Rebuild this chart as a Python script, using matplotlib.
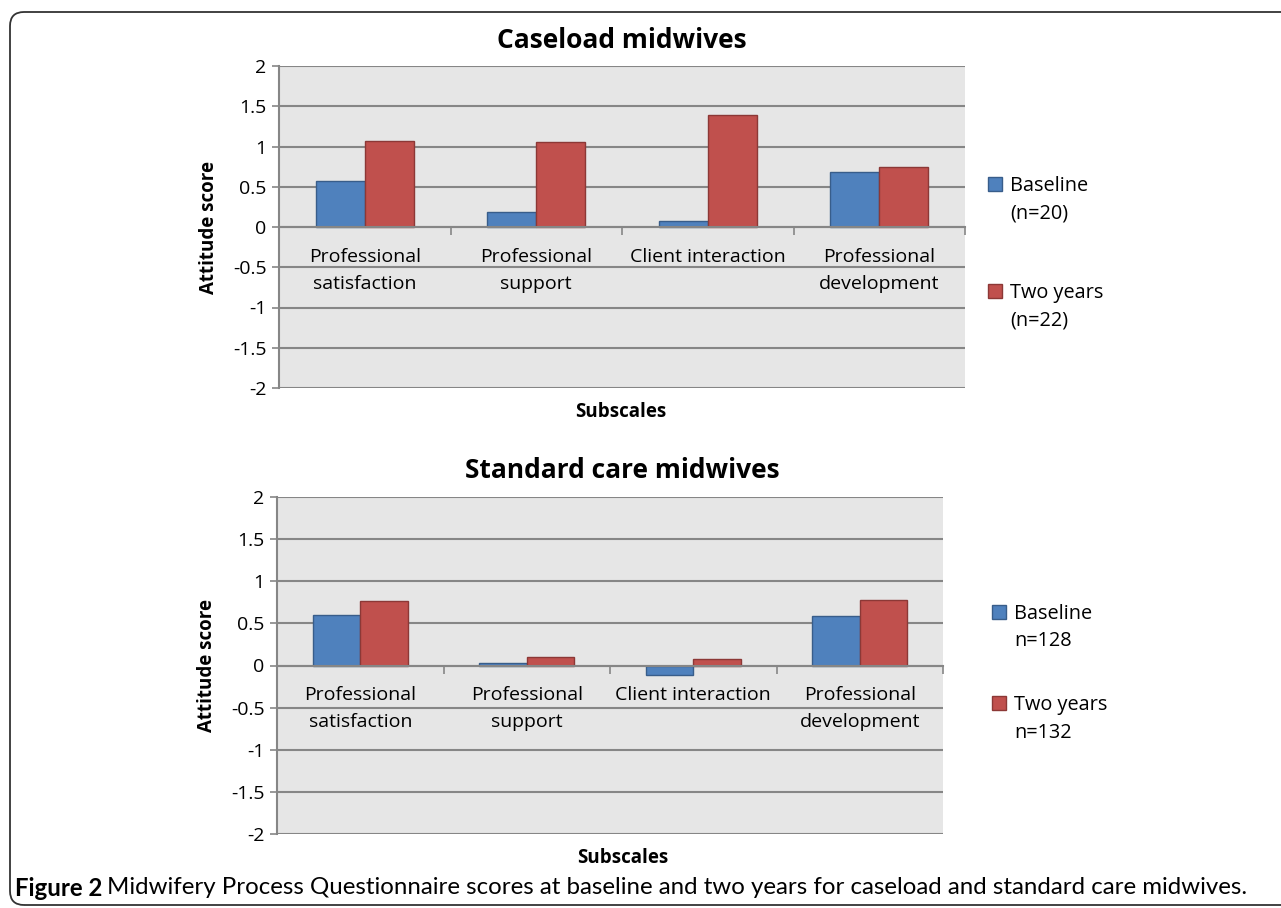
import numpy as np
import matplotlib.pyplot as plt
from matplotlib.patches import FancyBboxPatch, Rectangle
from matplotlib.transforms import IdentityTransform

plt.rcParams['font.family'] = ['Open Sans', 'DejaVu Sans']

# data
subscales = ['Professional\nsatisfaction', 'Professional\nsupport',
             'Client interaction', 'Professional\ndevelopment']
case_base = [0.57, 0.19, 0.08, 0.68]
case_two = [1.07, 1.05, 1.39, 0.74]
std_base = [0.60, 0.03, -0.11, 0.59]
std_two = [0.76, 0.10, 0.08, 0.78]
case_labels = ['Baseline\n(n=20)', 'Two years\n(n=22)']
std_labels = ['Baseline\nn=128', 'Two years\nn=132']
yticks = [-2, -1.5, -1, -0.5, 0, 0.5, 1, 1.5, 2]
ytick_labels = ['-2', '-1.5', '-1', '-0.5', '0', '0.5', '1', '1.5', '2']

blue, blue_edge = '#4F81BD', '#385D8A'
red, red_edge = '#C0504D', '#8C3836'
grid_col = '#868686'

W, H = 1281, 908
fig = plt.figure(figsize=(W / 100, H / 100), dpi=100)

# rounded frame around the figure
frame = FancyBboxPatch((10, 3), 1300, 893, boxstyle='round,pad=0,rounding_size=14',
                       transform=IdentityTransform(), fill=False,
                       edgecolor='#333333', linewidth=1.3)
fig.add_artist(frame)


def panel(rect, base, two, title, labels, leg_x, leg_y, title_xy, xl_xy, yl_xy):
    ax = fig.add_axes(rect)
    x = np.arange(len(subscales))
    w = 0.286
    ax.bar(x - w / 2, base, w, color=blue, edgecolor=blue_edge, linewidth=1, zorder=3)
    ax.bar(x + w / 2, two, w, color=red, edgecolor=red_edge, linewidth=1, zorder=3)
    ax.set_xlim(-0.5, len(subscales) - 0.5)
    ax.set_ylim(-2, 2)
    ax.set_facecolor('#E6E6E6')
    ax.set_yticks(yticks)
    ax.set_yticklabels(ytick_labels, fontsize=14)
    ax.yaxis.grid(True, color=grid_col, linewidth=1.5, zorder=0)
    ax.set_axisbelow(True)
    for s in ['top', 'right']:
        ax.spines[s].set_visible(False)
    ax.spines['left'].set_color(grid_col)
    ax.spines['left'].set_linewidth(1.5)
    ax.spines['bottom'].set_position(('data', 0))
    ax.spines['bottom'].set_color(grid_col)
    ax.spines['bottom'].set_linewidth(1.5)
    ax.spines['bottom'].set_zorder(4)
    ax.tick_params(axis='y', length=5, color=grid_col, width=1.2, pad=4)
    ax.set_xticks(x)
    ax.set_xticklabels(subscales, fontsize=14, linespacing=1.62)
    ax.set_xticks(np.arange(-0.5, len(subscales)), minor=True)
    ax.tick_params(axis='x', which='major', length=0, pad=15)
    ax.tick_params(axis='x', which='minor', length=6, color=grid_col, width=1.2)
    for t in ax.get_xticklabels():
        t.set_verticalalignment('top')

    fig.text(title_xy[0] / W, 1 - title_xy[1] / H, title, fontsize=19,
             fontweight='bold', ha='center', va='center')
    fig.text(xl_xy[0] / W, 1 - xl_xy[1] / H, 'Subscales', fontsize=13.5,
             fontweight='bold', ha='center', va='center')
    fig.text(yl_xy[0] / W, 1 - yl_xy[1] / H, 'Attitude score', fontsize=13.5,
             fontweight='bold', ha='center', va='center', rotation=90)

    # legend, square next to the first line of each entry
    for lab, col, ec, yy in zip(labels, [blue, red], [blue_edge, red_edge], leg_y):
        fig.add_artist(Rectangle(((leg_x - 22) / W, 1 - (yy + 7) / H), 14 / W, 14 / H,
                                 transform=fig.transFigure, facecolor=col,
                                 edgecolor=ec, linewidth=1))
        fig.text(leg_x / W, 1 - (yy - 8) / H, lab, fontsize=14.3, ha='left',
                 va='top', linespacing=1.5)
    return ax


panel([279 / W, 1 - 388 / H, (965 - 279) / W, (388 - 66) / H],
      case_base, case_two, 'Caseload midwives', case_labels,
      1010, [184, 291], (622, 40), (621, 412), (209, 227))
panel([277 / W, 1 - 834 / H, (943 - 277) / W, (834 - 497) / H],
      std_base, std_two, 'Standard care midwives', std_labels,
      1014, [612, 703], (622, 470), (623, 858), (207, 665))

# caption: bold figure number followed by regular text
renderer = fig.canvas.get_renderer()
cap_font = ['Lato', 'Open Sans', 'DejaVu Sans']
cap1 = fig.text(15 / W, 1 - 888 / H, 'Figure 2', fontsize=17.3, fontweight='bold',
                family=cap_font, ha='left', va='center')
bb = cap1.get_window_extent(renderer)
fig.text(bb.x1 / W + 5 / W, 1 - 888 / H,
         'Midwifery Process Questionnaire scores at baseline and two years for caseload and standard care midwives.',
         fontsize=17.3, family=cap_font, ha='left', va='center')

fig.savefig('out.png', dpi=100)
